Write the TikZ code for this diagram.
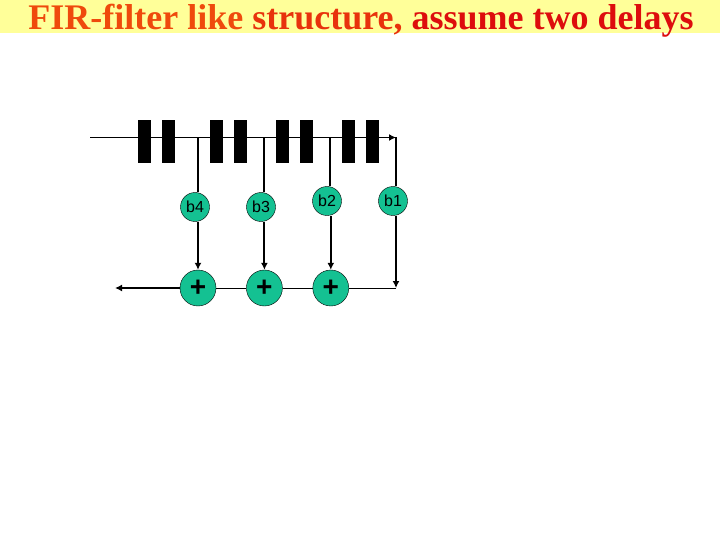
\documentclass[tikz,border=0pt]{standalone}
\usepackage{fontspec}
\setmainfont{Liberation Sans}
\newfontfamily\titlefont{Liberation Serif}
\usetikzlibrary{positioning,arrows.meta}
\definecolor{bandyellow}{HTML}{FFFF99}
\definecolor{tapgreen}{HTML}{14C192}
\definecolor{titleorange}{HTML}{EF4A0C}
\definecolor{titlered}{HTML}{DD0D0D}

\begin{document}
\begin{tikzpicture}[x=1pt, y=-1pt,
  delaybar/.style={draw=none, fill=black, inner sep=0pt, minimum width=13pt, minimum height=43pt},
  tapnode/.style={draw=black, circle, fill=tapgreen, inner sep=0pt, minimum size=29pt, font=\fontsize{16}{16}\selectfont},
  sumnode/.style={draw=black, circle, fill=tapgreen, inner sep=0pt, minimum size=36pt, font=\fontsize{28}{28}\selectfont\bfseries},
  arr/.style={-{Latex[length=7pt, width=7pt]}, line width=1.9pt},
  wire/.style={line width=1.9pt},
  thinwire/.style={line width=1pt}
]
\useasboundingbox (0,0) rectangle (720,540);
\fill[bandyellow] (0,0) rectangle (720,33);
\node[inner sep=0pt, anchor=base, font=\titlefont\fontsize{36}{36}\selectfont\bfseries] (title) at (361,30) {\textcolor{titleorange}{FIR-filter like} \textcolor{titlered!40!titleorange}{structure,} \textcolor{titlered}{assume two delays}};

% delay line
\coordinate (in) at (90,137.5);
\coordinate (end) at (396,137.5);
\draw[arr] (in) -- (end);
\node[delaybar] (bar1) at (144.5,141.5) {};
\node[delaybar, right=11pt of bar1] (bar2) {};
\node[delaybar] (bar3) at (216.5,141.5) {};
\node[delaybar, right=11pt of bar3] (bar4) {};
\node[delaybar] (bar5) at (282.5,141.5) {};
\node[delaybar, right=11pt of bar5] (bar6) {};
\node[delaybar] (bar7) at (348.5,141.5) {};
\node[delaybar, right=11pt of bar7] (bar8) {};

% adders
\node[sumnode] (sum4) at (198,288) {+};
\node[sumnode, right=30pt of sum4] (sum3) {+};
\node[sumnode, right=30pt of sum3] (sum2) {+};
\coordinate (corner) at (396,288);
\coordinate (out) at (115,288);

% coefficients
\node[tapnode] (b4) at (195,207) {b4};
\node[tapnode] (b3) at (261,207) {b3};
\node[tapnode] (b2) at (327,201) {b2};
\node[tapnode] (b1) at (393,201) {b1};

\coordinate (tap4) at (198,137.5);
\coordinate (tap3) at (264,137.5);
\coordinate (tap2) at (330,137.5);

\draw[wire] (tap4) -- (tap4 |- b4.north);
\draw[wire] (tap3) -- (tap3 |- b3.north);
\draw[wire] (tap2) -- (tap2 |- b2.north);
\draw[wire] (end) -- (end |- b1.north);
\draw[arr] (sum4 |- b4.south) -- (sum4.north);
\draw[arr] (sum3 |- b3.south) -- (sum3.north);
\draw[arr] (sum2 |- b2.south) -- (sum2.north);
\draw[arr] (corner |- b1.south) -- (corner);

\draw[arr] (sum4) -- (out);
\draw[thinwire] (sum3) -- (sum4);
\draw[thinwire] (sum2) -- (sum3);
\draw[thinwire] (corner) -- (sum2);
\end{tikzpicture}
\end{document}
